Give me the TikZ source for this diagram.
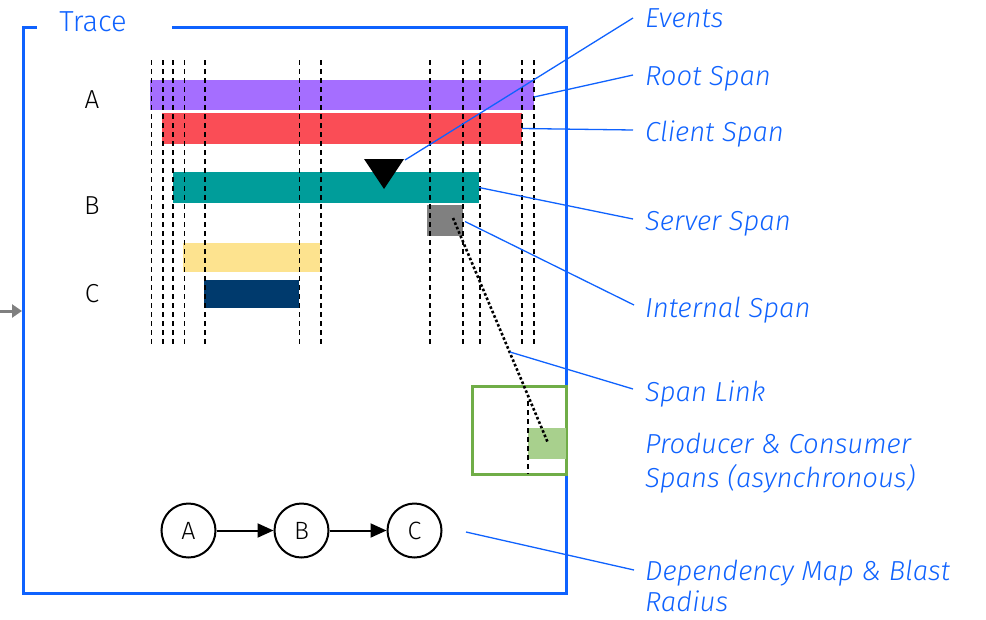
\documentclass[tikz,border=0pt]{standalone}
\usepackage{fontspec}
\setmainfont{Fira Sans}[UprightFont=* Light, ItalicFont=* Light Italic]
\usetikzlibrary{arrows.meta}
\definecolor{ibmblue}{HTML}{0F62FE}
\definecolor{rootc}{HTML}{A56EFF}
\definecolor{clientc}{HTML}{FA4D56}
\definecolor{serverc}{HTML}{009D9A}
\definecolor{yellowc}{HTML}{FDE38F}
\definecolor{navyc}{HTML}{003A6D}
\definecolor{greyc}{HTML}{808080}
\definecolor{lgreen}{HTML}{A8D08D}
\definecolor{dgreen}{HTML}{70AD47}
\begin{document}
\begin{tikzpicture}[x=1pt,y=-1pt,
  bar/.style={rectangle, inner sep=0pt, outer sep=0pt, anchor=north west},
  callout/.style={draw=ibmblue, line width=1.3pt},
  lbl/.style={anchor=base west, inner sep=0pt, text=ibmblue, font=\fontsize{27.5}{32}\selectfont\itshape},
  rowlbl/.style={inner sep=0pt, font=\fontsize{26}{30}\selectfont},
  timeline/.style={draw=black, line width=1.2pt, dash pattern=on 5pt off 4pt},
  svc/.style={circle, draw=black, line width=2pt, minimum size=54pt, inner sep=0pt, font=\fontsize{25}{28}\selectfont},
  dep/.style={draw=black, line width=2pt, -{Triangle[length=16pt,width=14pt]}}
]
\useasboundingbox (0,0) rectangle (986,619);

% Trace frame
\draw[ibmblue, line width=3pt] (37,27) -- (23,27) -- (23,593) -- (566,593) -- (566,27) -- (172,27);
\node[inner sep=0pt, text=ibmblue, font=\fontsize{29}{32}\selectfont] (trace) at (93,22) {Trace};
\coordinate (entry) at (0,311);
\coordinate (frameleft) at (22,311);
\draw[draw=greyc, line width=3pt, -{Triangle[length=10pt,width=13pt]}] (entry) -- (frameleft);

% row labels
\node[rowlbl] (la) at (92,100) {A};
\node[rowlbl] (lb) at (92,206) {B};
\node[rowlbl] (lc) at (92,294) {C};

% span bars
\node[bar, fill=rootc, minimum width=384pt, minimum height=30pt] (root) at (150,80) {};
\node[bar, fill=clientc, minimum width=360pt, minimum height=31pt] (client) at (162,113) {};
\node[bar, fill=serverc, minimum width=306pt, minimum height=31pt] (server) at (173,172) {};
\node[bar, fill=yellowc, minimum width=137pt, minimum height=29pt] (ybar) at (183,243) {};
\node[bar, fill=navyc, minimum width=95pt, minimum height=28pt] (nbar) at (204,280) {};
\node[bar, fill=greyc, minimum width=36pt, minimum height=31pt] (internal) at (427,205) {};

% timeline dashed lines
\foreach \x in {151.5,163,173,184.5,205,299.5,321,430,463,480,522,534}
  \draw[timeline] (\x,60) -- (\x,345);

% producer / consumer box
\node[bar, draw=dgreen, line width=3pt, minimum width=94pt, minimum height=88pt] (pcbox) at (472,386) {};
\node[bar, fill=lgreen, minimum width=38pt, minimum height=31pt] (consumer) at (528,428) {};
\draw[timeline] (528,401) -- (528,474);

% event marker
\fill[black] (364,159) -- (404,159) -- (384,189) -- cycle;
\coordinate (event) at (405,160);

% span link
\coordinate (linkstart) at (453,218);
\coordinate (linkend) at (548,443);
\draw[black, line width=2.6pt, dash pattern=on 2.6pt off 2.2pt] (linkstart) -- (linkend);
\coordinate (linkmid) at (510,352);

% dependency map
\node[svc] (ca) at (188.5,530.5) {A};
\node[svc] (cb) at (301.5,530.5) {B};
\node[svc] (cc) at (414.5,530.5) {C};
\draw[dep] (ca) -- (cb);
\draw[dep] (cb) -- (cc);
\coordinate (depmap) at (466,532);

% labels
\node[lbl] (tev) at (645,27) {Events};
\node[lbl] (troot) at (645,85) {Root Span};
\node[lbl] (tclient) at (645,141) {Client Span};
\node[lbl] (tserver) at (645,230) {Server Span};
\node[lbl] (tinternal) at (645,317) {Internal Span};
\node[lbl] (tlink) at (645,401) {Span Link};
\node[lbl] (tpc1) at (645,453) {Producer \& Consumer};
\node[lbl] (tpc2) at (645,487) {Spans (asynchronous)};
\node[lbl] (tdep1) at (645,580) {Dependency Map \& Blast};
\node[lbl] (tdep2) at (645,611) {Radius};

\coordinate (pev) at (633,18);
\coordinate (proot) at (633,75);
\coordinate (pclient) at (633,130);
\coordinate (pserver) at (633,219);
\coordinate (pinternal) at (634,305);
\coordinate (plink) at (633,389);
\coordinate (pdep) at (634,570);

\draw[callout] (event) -- (pev);
\draw[callout] (root.east) ++(0,2) -- (proot);
\draw[callout] (client.east) -- (pclient);
\draw[callout] (server.east) -- (pserver);
\draw[callout] (internal.east) ++(2,1) -- (pinternal);
\draw[callout] (linkmid) -- (plink);
\draw[callout] (depmap) -- (pdep);
\end{tikzpicture}
\end{document}
